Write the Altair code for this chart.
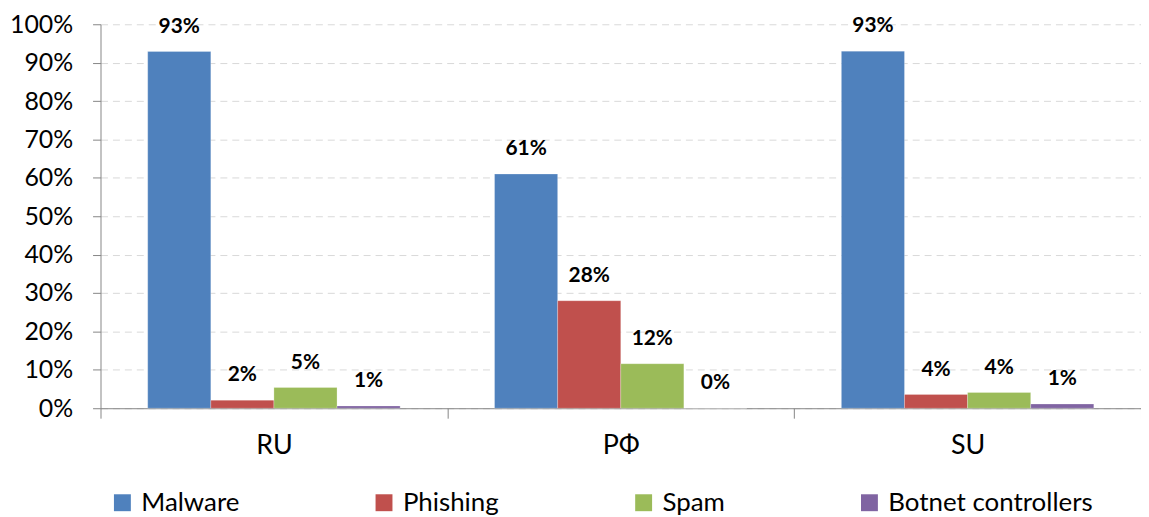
import altair as alt
import pandas as pd

categories = ["RU", "РФ", "SU"]
series = ["Malware", "Phishing", "Spam", "Botnet controllers"]
colors = ["#4F81BD", "#C0504D", "#9BBB59", "#8064A2"]
malware = [92.9, 61.0, 93.0]
phishing = [2.1, 28.0, 3.6]
spam = [5.4, 11.6, 4.1]
botnet = [0.6, 0.0, 1.1]
y_ticks = [0, 10, 20, 30, 40, 50, 60, 70, 80, 90, 100]

rows = []
for s, vals in zip(series, [malware, phishing, spam, botnet]):
    for c, v in zip(categories, vals):
        rows.append({"category": c, "series": s, "value": v})
df = pd.DataFrame(rows)

FONT = "Lato"

x = alt.X("category:N", sort=categories, title=None,
          scale=alt.Scale(paddingInner=0, paddingOuter=0),
          axis=alt.Axis(labelAngle=0, labelFontSize=27, labelColor="black", labelFont=FONT,
                        tickBand="extent", tickSize=10, tickColor="#868686", domainColor="#868686",
                        labelPadding=15, grid=False))
xo = alt.XOffset("series:N", sort=series,
                 scale=alt.Scale(paddingInner=0, paddingOuter=0.748))
y = alt.Y("value:Q", title=None,
          scale=alt.Scale(domain=[0, 100], nice=False),
          axis=alt.Axis(values=y_ticks, labelExpr="datum.value + '%'", labelFontSize=25,
                        labelColor="black", labelFont=FONT, tickSize=8, tickColor="#868686",
                        domainColor="#868686", labelPadding=20, labelOverlap=False,
                        labelFlush=False, labelBound=False,
                        gridColor="#D9D9D9", gridDash=[7, 5], gridWidth=1))

base = alt.Chart(df).encode(x=x, xOffset=xo, y=y)

bars = base.mark_bar(stroke="white", strokeWidth=0.5, strokeOpacity=0.5).encode(
    color=alt.Color("series:N", sort=series,
                    scale=alt.Scale(domain=series, range=colors),
                    legend=alt.Legend(title=None, orient="none", legendX=9, legendY=468,
                                      direction="horizontal", columns=4, gridAlign="none",
                                      columnPadding=132, symbolType="square", symbolSize=289,
                                      symbolStrokeWidth=0, labelFontSize=26, labelFont=FONT,
                                      labelColor="black", symbolOffset=0, labelOffset=6,
                                      labelLimit=400, padding=0)),
)

labels = base.transform_calculate(
    lbl="format(datum.value, '.0f') + '%'"
).mark_text(fontWeight="bold", fontSize=21, font=FONT, color="black", dy=-25, baseline="middle").encode(
    text="lbl:N",
)

chart = alt.layer(bars, labels).properties(
    width=1046, height=386,
    autosize=alt.AutoSizeParams(type="none"),
    padding={"left": 93, "top": 15, "right": 0, "bottom": 108},
).configure_view(stroke=None)

chart.save("out.html", embed_options={"renderer": "svg", "actions": False})
